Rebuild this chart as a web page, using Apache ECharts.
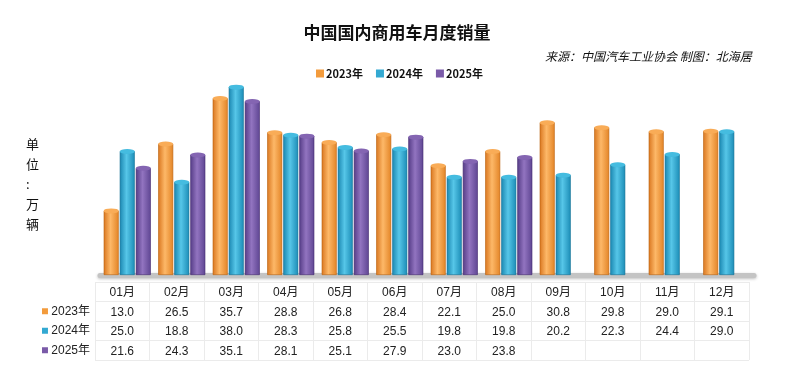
<!DOCTYPE html>
<html><head><meta charset="utf-8">
<script src="https://cdn.jsdelivr.net/npm/echarts@6/dist/echarts.min.js"></script>
<style>html,body{margin:0;padding:0;background:#fff}#c{width:800px;height:367px}</style>
</head><body><div id="c"></div>
<script>
const months = ['01月','02月','03月','04月','05月','06月','07月','08月','09月','10月','11月','12月'];
const seriesNames = ['2023年','2024年','2025年'];
const s2023 = [13.0,26.5,35.7,28.8,26.8,28.4,22.1,25.0,30.8,29.8,29.0,29.1];
const s2024 = [25.0,18.8,38.0,28.3,25.8,25.5,19.8,19.8,20.2,22.3,24.4,29.0];
const s2025 = [21.6,24.3,35.1,28.1,25.1,27.9,23.0,23.8];
const allData = [s2023, s2024, s2025];

const FONT = '"Liberation Sans","Noto Sans CJK SC",sans-serif';
const flat = ['#F39B3C','#33A9D2','#7A5AA8'];
const grads = [
  ['#D9761F','#FDB868','#E38426'],
  ['#1A86B0','#56C6E8','#1B8CB6'],
  ['#553C86','#9274C0','#5E4592']
];
const capFill = ['#F9AC57','#45BCE0','#8465B2'];
const capBorder = ['#B8620F','#126E94','#43296E'];

const chart = echarts.init(document.getElementById('c'), null, {renderer:'canvas'});
const BW = 15, GAP = '7%', CGAP = '14%';

const series = [];
seriesNames.forEach((n, i) => {
  series.push({
    name: n, type: 'bar', xAxisIndex: 0, yAxisIndex: 0,
    data: allData[i], barWidth: BW, barGap: GAP, barCategoryGap: CGAP,
    itemStyle: {
      color: new echarts.graphic.LinearGradient(0,0,1,0,[
        {offset:0,color:grads[i][0]},{offset:0.45,color:grads[i][1]},{offset:1,color:grads[i][2]}]),
      borderColor: capBorder[i], borderWidth: 0.6
    },
    z: 2
  });
});
seriesNames.forEach((n, i) => {
  series.push({
    name: n, type: 'pictorialBar', xAxisIndex: 0, yAxisIndex: 0,
    data: allData[i], barWidth: BW, barGap: GAP, barCategoryGap: CGAP,
    symbol: 'circle', symbolSize: [BW, 5], symbolPosition: 'end', symbolOffset: [0, '-50%'],
    itemStyle: { color: capFill[i], borderColor: capBorder[i], borderWidth: 0.8 },
    z: 3, silent: true
  });
});

const rowLabels = ['', ...seriesNames];
const rich = { t: { fontFamily: FONT, fontSize: 12, color: '#222' } };
flat.forEach((c, i) => { rich['s' + i] = { width: 6, height: 6, backgroundColor: c }; });

chart.setOption({
  backgroundColor: '#fff',
  animation: false,
  title: [{
    text: '中国国内商用车月度销量', left: 392, top: 19, textAlign: 'center',
    textStyle: { fontFamily: '"Noto Sans CJK SC",sans-serif', fontSize: 17, fontWeight: 'bold', color: '#111' }
  },{
    text: '来源：中国汽车工业协会 制图：北海居', left: 540, top: 45,
    textStyle: { fontFamily: '"Noto Sans CJK SC",sans-serif', fontSize: 12, fontStyle: 'italic', fontWeight: 'normal', color: '#111' }
  }],
  legend: {
    left: 311, top: 63, itemWidth: 8, itemHeight: 8, itemGap: 13, icon: 'rect',
    data: seriesNames.map((n, i) => ({ name: n, itemStyle: { color: flat[i], borderWidth: 0 } })),
    textStyle: { fontFamily: '"Noto Sans CJK SC",sans-serif', fontSize: 11, fontWeight: 'bold', color: '#111', padding: [0,0,0,-3] }
  },
  graphic: [{
    type: 'text', left: 26, top: 134,
    style: { text: '单\n位\n:\n万\n辆', fontFamily: '"Noto Sans CJK SC",sans-serif', fontSize: 13, lineHeight: 20, fill: '#111', align: 'center' }
  }],
  grid: [
    { left: 100, right: 46, top: 77, bottom: 92 },
    { left: 95, right: 51, top: 282, bottom: 7 }
  ],
  xAxis: [{
    type: 'category', gridIndex: 0, data: months,
    axisLine: { show: true, lineStyle: { color: '#c4c4c4', width: 5, shadowColor: 'rgba(0,0,0,0.25)', shadowBlur: 3, shadowOffsetY: 1 } },
    axisTick: { show: false }, axisLabel: { show: false }
  },{
    type: 'category', gridIndex: 1, data: months, position: 'top',
    axisLine: { show: false }, axisTick: { show: false },
    splitLine: { show: true, lineStyle: { color: '#ebebeb', width: 1 } },
    axisLabel: {
      inside: true, margin: 1, fontFamily: FONT, fontSize: 12, color: '#222', lineHeight: 19.5,
      formatter: (v, idx) => [v].concat(allData.map(a => a[idx] != null ? a[idx].toFixed(1) : '')).join('\n')
    }
  }],
  yAxis: [{
    type: 'value', gridIndex: 0, min: 0, max: 40, show: false
  },{
    type: 'category', gridIndex: 1, inverse: true, data: rowLabels,
    axisLine: { show: false }, axisTick: { show: false },
    splitLine: { show: true, lineStyle: { color: '#ebebeb', width: 1 } },
    axisLabel: {
      margin: 5, rich: rich,
      formatter: (v, idx) => idx === 0 ? '' : '{s' + (idx - 1) + '|}{t| ' + v + '}'
    }
  }],
  series: series
});
</script></body></html>
